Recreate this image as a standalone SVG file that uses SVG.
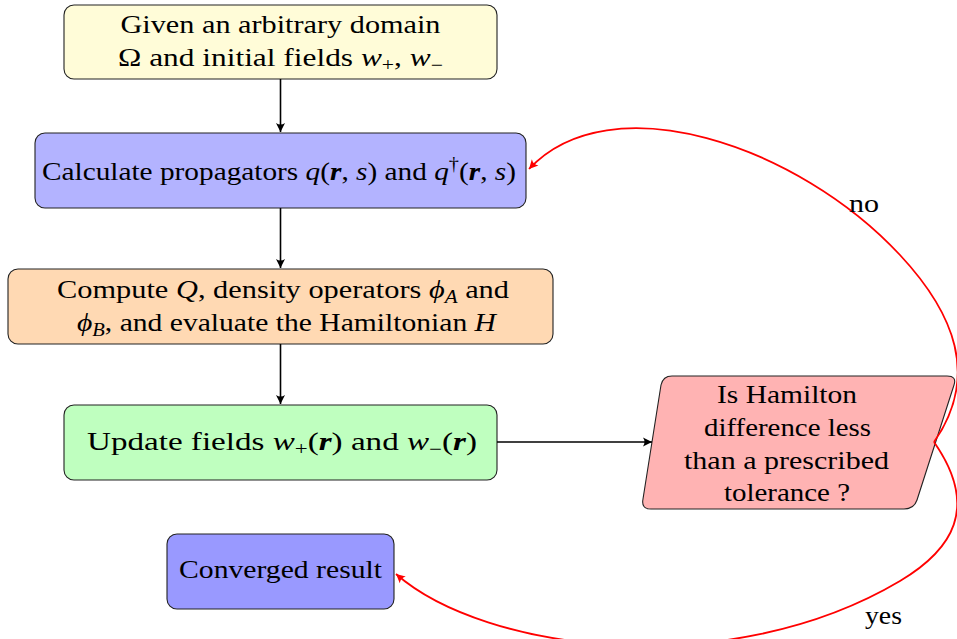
<svg xmlns="http://www.w3.org/2000/svg" width="957" height="639" viewBox="0 0 957 639">
<style>
text{font-family:"Liberation Serif","DejaVu Serif",serif;font-size:26px;fill:#000;text-anchor:middle}
.i{font-style:italic}
.b{font-style:italic;font-weight:bold}
.box{stroke:#222;stroke-width:1.1}
.k{fill:none;stroke:#000;stroke-width:1.6;marker-end:url(#ak)}
.r{fill:none;stroke:#f00;stroke-width:1.8;marker-end:url(#ar)}
</style>
<defs>
<marker id="ak" markerWidth="12" markerHeight="10" refX="10" refY="5" orient="auto" markerUnits="userSpaceOnUse">
<path d="M10,5 L1,0.5 Q4,5 1,9.5 Z" fill="#000"/>
</marker>
<marker id="ar" markerWidth="12" markerHeight="10" refX="10" refY="5" orient="auto" markerUnits="userSpaceOnUse">
<path d="M10,5 L1,0.5 Q4,5 1,9.5 Z" fill="#f00"/>
</marker>
</defs>
<g id="n1">
<rect class="box" x="64" y="5" width="433" height="74" rx="10" fill="#FFFCD8"/>
<text x="280.5" y="33" textLength="320" lengthAdjust="spacingAndGlyphs">Given an arbitrary domain</text>
<text x="280.5" y="66" textLength="325" lengthAdjust="spacingAndGlyphs">Ω and initial fields <tspan class="i">w</tspan><tspan font-size="18" dy="5">+</tspan><tspan dy="-5">, </tspan><tspan class="i">w</tspan><tspan font-size="18" dy="5">−</tspan></text>
</g>
<g id="n2">
<rect class="box" x="35" y="133" width="491" height="75" rx="10" fill="#B3B3FF"/>
<text x="279" y="180" textLength="474" lengthAdjust="spacingAndGlyphs">Calculate propagators <tspan class="i">q</tspan>(<tspan class="b">r</tspan>, <tspan class="i">s</tspan>) and <tspan class="i">q</tspan><tspan font-size="18" dy="-10">†</tspan><tspan dy="10">(</tspan><tspan class="b">r</tspan>, <tspan class="i">s</tspan>)</text>
</g>
<g id="n3">
<rect class="box" x="8" y="269" width="545" height="75" rx="10" fill="#FFD9B3"/>
<text x="283" y="298" textLength="452" lengthAdjust="spacingAndGlyphs">Compute <tspan class="i">Q</tspan>, density operators <tspan class="i">ϕ</tspan><tspan class="i" font-size="18" dy="5">A</tspan><tspan dy="-5"> and</tspan></text>
<text x="286.5" y="331" textLength="419" lengthAdjust="spacingAndGlyphs"><tspan class="i">ϕ</tspan><tspan class="i" font-size="18" dy="5">B</tspan><tspan dy="-5">, and evaluate the Hamiltonian </tspan><tspan class="i">H</tspan></text>
</g>
<g id="n4">
<rect class="box" x="64" y="405" width="433" height="75" rx="10" fill="#BFFFBF"/>
<text x="282" y="450" textLength="390" lengthAdjust="spacingAndGlyphs">Update fields <tspan class="i">w</tspan><tspan font-size="18" dy="5">+</tspan><tspan dy="-5">(</tspan><tspan class="b">r</tspan>) and <tspan class="i">w</tspan><tspan font-size="18" dy="5">−</tspan><tspan dy="-5">(</tspan><tspan class="b">r</tspan>)</text>
</g>
<g id="n5">
<path class="box" d="M672,376 L947,376 Q957,376 954,385 L917,500 Q914,509 904,509 L651,509 Q641,509 643,499 L661,385 Q663,376 672,376 Z" fill="#FFB3B3"/>
<text x="787" y="403" textLength="140" lengthAdjust="spacingAndGlyphs">Is Hamilton</text>
<text x="787.5" y="436" textLength="167" lengthAdjust="spacingAndGlyphs">difference less</text>
<text x="786.5" y="469" textLength="205" lengthAdjust="spacingAndGlyphs">than a prescribed</text>
<text x="787" y="501" textLength="126" lengthAdjust="spacingAndGlyphs">tolerance ?</text>
</g>
<g id="n6">
<rect class="box" x="167" y="534" width="227" height="75" rx="10" fill="#9999FF"/>
<text x="280.5" y="578" textLength="203" lengthAdjust="spacingAndGlyphs">Converged result</text>
</g>
<g id="connectors">
<path class="k" d="M280.5,79 L280.5,132"/>
<path class="k" d="M280.5,208 L280.5,268"/>
<path class="k" d="M280.5,344 L280.5,404"/>
<path class="k" d="M497,442 L652,442"/>
<path class="r" d="M934,442 C980,376 954,313 900,255 C798,145 610,82 529,169"/>
<path class="r" d="M934,442 C980,508 952,550 900,581 C728,683 485,652 396,574"/>
<text x="864" y="212" textLength="30" lengthAdjust="spacingAndGlyphs">no</text>
<text x="883.5" y="624" textLength="37" lengthAdjust="spacingAndGlyphs">yes</text>
</g>
</svg>
